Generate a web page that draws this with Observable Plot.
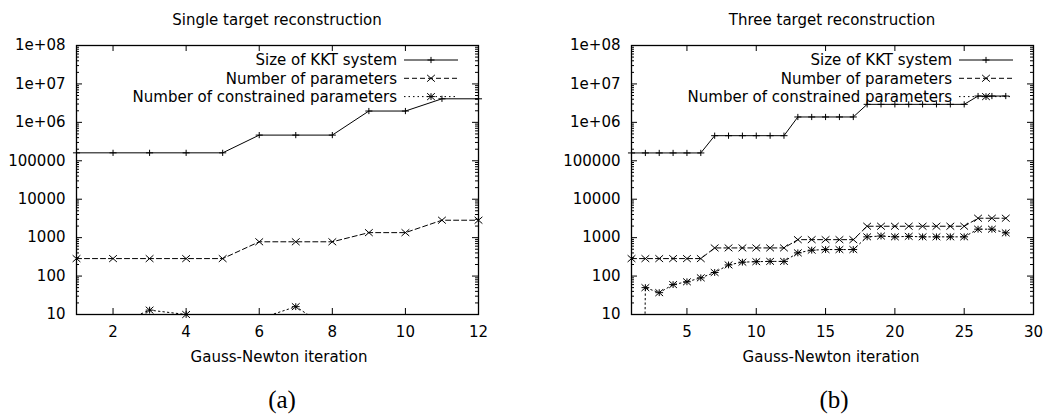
<!DOCTYPE html>
<html><head><meta charset="utf-8">
<script src="https://cdn.jsdelivr.net/npm/d3@7"></script>
<script src="https://cdn.jsdelivr.net/npm/@observablehq/plot@0.6"></script>
<style>
body{margin:0;background:#fff;}
#wrap{position:relative;width:1048px;height:415px;font-family:"DejaVu Sans",sans-serif;color:#000;background:#fff;overflow:hidden;}
.lbl{position:absolute;font-size:15px;white-space:nowrap;transform:translate(-50%,-50%);line-height:1;}
.cap{position:absolute;font-family:"Liberation Serif",serif;font-size:25px;white-space:nowrap;transform:translate(-50%,-50%);line-height:1;}
.panel{position:absolute;top:0;}
</style></head><body>
<div id="wrap"></div>
<script>
// ---------- data ----------
const seriesLabels = ["Size of KKT system", "Number of parameters", "Number of constrained parameters"];
const yTickValues = [10, 100, 1000, 10000, 100000, 1e6, 1e7, 1e8];

// (a) single target
const singleIter = [1,2,3,4,5,6,7,8,9,10,11,12];
const singleKKT = [161000,161000,161000,161000,161000,466000,466000,466000,1970000,1970000,4100000,4100000];
const singleParams = [285,285,285,285,285,780,780,780,1350,1350,2840,2840];
const singleConstrained = [4,5,13,10,4,7.7,16,3.8,3,2,4,3];
const singleXTicks = [2,4,6,8,10,12];

// (b) three targets
const threeIter = [1,2,3,4,5,6,7,8,9,10,11,12,13,14,15,16,17,18,19,20,21,22,23,24,25,26,27,28];
const threeKKT = [160000,160000,160000,160000,160000,160000,
  450000,450000,450000,450000,450000,450000,
  1380000,1380000,1380000,1380000,1380000,
  2940000,2940000,2940000,2940000,2940000,2940000,2940000,2940000,
  4840000,4840000,4840000];
const threeParams = [285,285,285,285,285,285,
  540,540,540,540,540,540,
  887,887,887,887,887,
  1980,1980,1980,1980,1980,1980,1980,1980,
  3200,3200,3200];
const threeConstrained = [0,50,37,60,71,90,124,195,230,237,241,241,402,472,490,490,490,1050,1100,1050,1080,1050,1050,1050,1050,1660,1660,1330];
const threeXTicks = [5,10,15,20,25,30];

// ---------- symbols (gnuplot-like point types) ----------
const SX = 1.14;
const plusSym = {draw(c, s){const r=Math.sqrt(s/Math.PI); c.moveTo(-r*SX,0); c.lineTo(r*SX,0); c.moveTo(0,-r); c.lineTo(0,r);}};
const crossSym = {draw(c, s){const r=Math.sqrt(s/Math.PI); c.moveTo(-r*SX,-r); c.lineTo(r*SX,r); c.moveTo(-r*SX,r); c.lineTo(r*SX,-r);}};
const starSym = {draw(c, s){const r=Math.sqrt(s/Math.PI); c.moveTo(-r*SX,0); c.lineTo(r*SX,0); c.moveTo(0,-r); c.lineTo(0,r);
  c.moveTo(-r*SX,-r); c.lineTo(r*SX,r); c.moveTo(-r*SX,r); c.lineTo(r*SX,-r);}};

const styles = [
  {key:"kkt", dash:null, symbol:plusSym, r:3.1},
  {key:"params", dash:"5,3", symbol:crossSym, r:3.4},
  {key:"constr", dash:"1.5,3", symbol:starSym, r:3.4}
];

const yMinor = [];
for (let d = 10; d < 1e8; d *= 10) for (let k = 2; k <= 9; k++) yMinor.push(d*k);

function fmt(d){ return d >= 1e6 ? d.toExponential(0).replace(/e\+(\d)$/, "e+0$1") : String(d); }

function panel({left, width, marginLeft, marginRight, xDomain, xTicks, iter, kkt, params, constr}) {
  const H = 345, mT = 45, mB = 31;
  const pw = width - marginLeft - marginRight, ph = H - mT - mB;
  const rows = iter.map((x, i) => ({x, kkt: kkt[i], params: params[i], constr: constr[i]}));
  const marks = [
    Plot.tickY(yTickValues, {y: d => d, insetRight: pw - 6, stroke: "black"}),
    Plot.tickY(yTickValues, {y: d => d, insetLeft: pw - 6, stroke: "black"}),
    Plot.tickY(yMinor, {y: d => d, insetRight: pw - 3, stroke: "black"}),
    Plot.tickY(yMinor, {y: d => d, insetLeft: pw - 3, stroke: "black"}),
    Plot.tickX(xTicks, {x: d => d, insetTop: ph - 6, stroke: "black"}),
    Plot.tickX(xTicks, {x: d => d, insetBottom: ph - 6, stroke: "black"}),
    Plot.axisX({ticks: xTicks, tickSize: 0, tickPadding: 12, label: null, fontSize: 15}),
    Plot.axisY({ticks: yTickValues, tickSize: 0, tickPadding: 11, tickFormat: fmt, label: null, fontSize: 15})
  ];
  for (const s of styles) {
    marks.push(Plot.line(rows, {x: "x", y: d => d[s.key] > 0 ? d[s.key] : 1e-30, clip: true,
      stroke: "black", strokeWidth: 1, strokeDasharray: s.dash}));
  }
  for (const s of styles) {
    marks.push(Plot.dot(rows, {x: "x", y: s.key, filter: d => d[s.key] >= 10, symbol: s.symbol, r: s.r,
      stroke: "black", fill: "none", strokeWidth: 1}));
  }
  marks.push(Plot.frame({stroke: "black", strokeWidth: 1.3}));
  const svg = Plot.plot({
    width, height: H, marginTop: mT, marginBottom: mB, marginLeft, marginRight,
    style: {fontFamily: "DejaVu Sans", fontSize: "15px", color: "black", background: "white"},
    x: {type: "linear", domain: xDomain, nice: false},
    y: {type: "log", domain: [10, 1e8], nice: false},
    marks
  });
  // key (legend), placed at the top right inside the frame as gnuplot does
  const fr = width - marginRight;
  const g = d3.select(svg).append("g").attr("class", "key");
  styles.forEach((s, i) => {
    const y = mT + 15 + i * 18.3;
    g.append("text").attr("x", fr - 81).attr("y", y).attr("dy", "0.35em")
      .attr("text-anchor", "end").attr("fill", "black")
      .style("font-family", "DejaVu Sans").style("font-size", "15px").text(seriesLabels[i]);
    g.append("line").attr("x1", fr - 74).attr("x2", fr - 20).attr("y1", y).attr("y2", y)
      .attr("stroke", "black").attr("stroke-width", 1).attr("stroke-dasharray", s.dash);
    g.append("path").attr("d", d3.symbol(s.symbol, s.r * s.r * Math.PI)())
      .attr("transform", `translate(${fr - 47},${y})`).attr("fill", "none").attr("stroke", "black");
  });
  svg.classList.add("panel");
  svg.style.left = left + "px";
  return svg;
}

const wrap = document.getElementById("wrap");
wrap.appendChild(panel({left: 0, width: 524, marginLeft: 76, marginRight: 46, xDomain: [1, 12], xTicks: singleXTicks,
  iter: singleIter, kkt: singleKKT, params: singleParams, constr: singleConstrained}));
wrap.appendChild(panel({left: 524, width: 524, marginLeft: 107, marginRight: 15, xDomain: [1, 30], xTicks: threeXTicks,
  iter: threeIter, kkt: threeKKT, params: threeParams, constr: threeConstrained}));

function addText(cls, text, x, y) {
  const d = document.createElement("div");
  d.className = cls; d.textContent = text; d.style.left = x + "px"; d.style.top = y + "px";
  wrap.appendChild(d);
}
addText("lbl", "Single target reconstruction", 277, 20);
addText("lbl", "Three target reconstruction", 832, 20);
addText("lbl", "Gauss-Newton iteration", 279, 357);
addText("lbl", "Gauss-Newton iteration", 831, 357);
addText("cap", "(a)", 282, 399);
addText("cap", "(b)", 834, 399);
</script>
</body></html>
